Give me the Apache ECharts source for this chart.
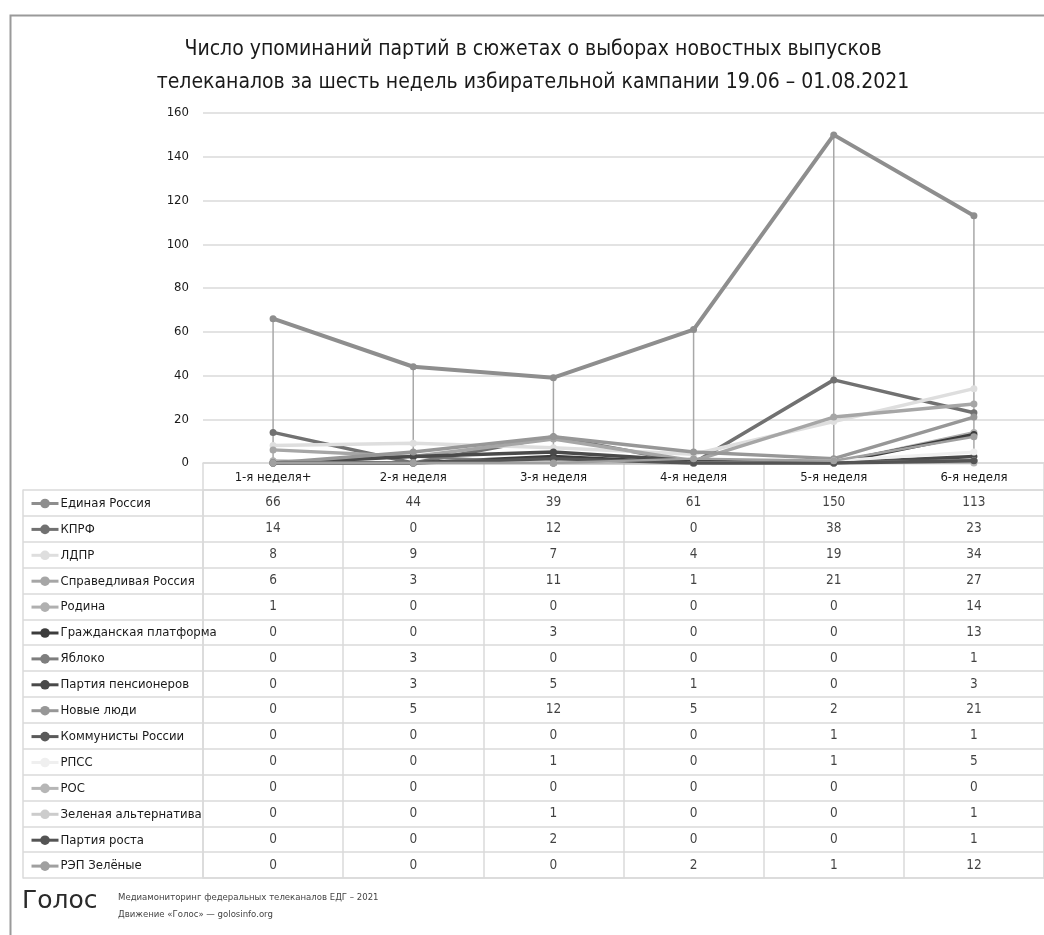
<!DOCTYPE html>
<html>
<head>
<meta charset="utf-8">
<script src="https://cdn.jsdelivr.net/npm/echarts@6/dist/echarts.min.js"></script>
<style>
html,body{margin:0;padding:0;background:#fff;}
#chart{width:1044px;height:935px;}
</style>
</head>
<body>
<div id="chart"></div>
<script>
var weeks = ['1-я неделя+','2-я неделя','3-я неделя','4-я неделя','5-я неделя','6-я неделя'];
var parties = ['Единая Россия','КПРФ','ЛДПР','Справедливая Россия','Родина','Гражданская платформа','Яблоко','Партия пенсионеров','Новые люди','Коммунисты России','РПСС','РОС','Зеленая альтернатива','Партия роста','РЭП Зелёные'];
var yTicks = [0,20,40,60,80,100,120,140,160];

var edinayaRossiya = [66,44,39,61,150,113];
var kprf = [14,0,12,0,38,23];
var ldpr = [8,9,7,4,19,34];
var spravedlivaya = [6,3,11,1,21,27];
var rodina = [1,0,0,0,0,14];
var grazhdPlatforma = [0,0,3,0,0,13];
var yabloko = [0,3,0,0,0,1];
var pensionery = [0,3,5,1,0,3];
var novyeLyudi = [0,5,12,5,2,21];
var kommunisty = [0,0,0,0,1,1];
var rpss = [0,0,1,0,1,5];
var ros = [0,0,0,0,0,0];
var zelAlt = [0,0,1,0,0,1];
var partiyaRosta = [0,0,2,0,0,1];
var repZelenye = [0,0,0,2,1,12];

var values = [edinayaRossiya,kprf,ldpr,spravedlivaya,rodina,grazhdPlatforma,yabloko,pensionery,novyeLyudi,kommunisty,rpss,ros,zelAlt,partiyaRosta,repZelenye];
var colors = ['#8e8e8e','#717171','#dedede','#a6a6a6','#b0b0b0','#3c3c3c','#7e7e7e','#4a4a4a','#979797','#5a5a5a','#efefef','#b6b6b6','#cccccc','#545454','#a0a0a0'];
var widths = [4,3.5,3.5,3.5,3,3.5,2.5,3.5,3.5,2.5,3,3,3,3.5,2.5];

var FONT = "'Liberation Sans Narrow','DejaVu Sans Condensed',sans-serif";
var GRID = '#dadada';

var chart = echarts.init(document.getElementById('chart'));

var series = [];
// high-low lines
var hl = weeks.map(function(w,i){
  var col = values.map(function(v){return v[i];});
  return [i, Math.max.apply(null,col), Math.min.apply(null,col)];
});
series.push({
  type:'custom', name:'hl', xAxisIndex:0, yAxisIndex:0, z:1,
  data: hl,
  renderItem: function(params, api){
    var p1 = api.coord([api.value(0), api.value(1)]);
    var p2 = api.coord([api.value(0), api.value(2)]);
    return {type:'line', shape:{x1:p1[0],y1:p1[1],x2:p2[0],y2:p2[1]}, style:{stroke:'#a8a8a8', lineWidth:1.5}};
  }
});
parties.forEach(function(name, k){
  series.push({
    type:'line', name:name, xAxisIndex:0, yAxisIndex:0, z:2+k,
    data: values[k],
    symbol:'circle', symbolSize:7,
    lineStyle:{color:colors[k], width:widths[k]},
    itemStyle:{color:colors[k]},
    emphasis:{disabled:true}
  });
});
var cells = [];
values.forEach(function(v, r){
  v.forEach(function(val, c){ cells.push([c, r, val]); });
});
series.push({
  type:'scatter', name:'table', xAxisIndex:1, yAxisIndex:1, z:20,
  data: cells, symbolSize:2, itemStyle:{color:'rgba(255,255,255,0)'},
  encode:{x:0,y:1},
  label:{show:true, position:'inside', formatter:function(p){return String(p.value[2]);}, color:'#111', fontSize:13.5, fontFamily:FONT},
  silent:true
});

var option = {
  animation:false,
  backgroundColor:'#fff',
  title:{
    text:'Число упоминаний партий в сюжетах о выборах новостных выпусков\nтелеканалов за шесть недель избирательной кампании 19.06 – 01.08.2021',
    left:528, top:28, textAlign:'center',
    textStyle:{fontSize:21, fontWeight:'normal', color:'#1a1a1a', fontFamily:FONT, lineHeight:33}
  },
  legend:{
    data: parties, orient:'vertical', left:25, top:492, padding:5,
    itemWidth:27, itemHeight:12, itemGap:12.9, selectedMode:false,
    lineStyle:{width:3},
    textStyle:{fontSize:13, color:'#1a1a1a', fontFamily:FONT, padding:[0,0,0,-3]}
  },
  grid:[
    {left:203, top:113, width:854, height:350},
    {left:203, top:490, width:854, height:388, show:true, borderColor:GRID, borderWidth:1.5}
  ],
  xAxis:[
    {type:'category', gridIndex:0, data:weeks, boundaryGap:true,
     axisLine:{show:true, lineStyle:{color:GRID, width:1.5}},
     axisTick:{show:true, length:27, lineStyle:{color:GRID, width:1.5}},
     axisLabel:{fontSize:13, color:'#1a1a1a', fontFamily:FONT, margin:8}},
    {type:'category', gridIndex:1, data:weeks, boundaryGap:true,
     axisLine:{show:false}, axisTick:{show:false}, axisLabel:{show:false},
     splitLine:{show:true, lineStyle:{color:GRID, width:1.5}}}
  ],
  yAxis:[
    {type:'value', gridIndex:0, min:yTicks[0], max:yTicks[yTicks.length-1], interval:20,
     axisLine:{show:false}, axisTick:{show:false},
     axisLabel:{fontSize:13, color:'#1a1a1a', fontFamily:FONT, margin:14},
     splitLine:{show:true, lineStyle:{color:GRID, width:1.5}}},
    {type:'category', gridIndex:1, data:parties, inverse:true, boundaryGap:true,
     axisLine:{show:false}, axisLabel:{show:false},
     axisTick:{show:true, length:180, lineStyle:{color:GRID, width:1.5}},
     splitLine:{show:true, lineStyle:{color:GRID, width:1.5}}},
    {type:'category', gridIndex:1, data:parties, inverse:true, position:'left', offset:180,
     axisLine:{show:true, lineStyle:{color:GRID, width:1.5}}, axisLabel:{show:false}, axisTick:{show:false}, splitLine:{show:false}}
  ],
  graphic:[
    {type:'rect', left:8, top:13, shape:{width:1200, height:1000}, style:{fill:'none', stroke:'#9a9a9a', lineWidth:2}, silent:true, z:-1},
    {type:'text', left:22, top:889, style:{text:'Голос', fontSize:25, fill:'#2a2a2a', fontFamily:"'DejaVu Sans',sans-serif"}},
    {type:'text', left:118, top:893, style:{text:'Медиамониторинг федеральных телеканалов ЕДГ – 2021', fontSize:9.5, fill:'#444', fontFamily:FONT}},
    {type:'text', left:118, top:910, style:{text:'Движение «Голос» — golosinfo.org', fontSize:9.5, fill:'#444', fontFamily:FONT}}
  ],
  series: series
};
chart.setOption(option);
</script>
</body>
</html>
